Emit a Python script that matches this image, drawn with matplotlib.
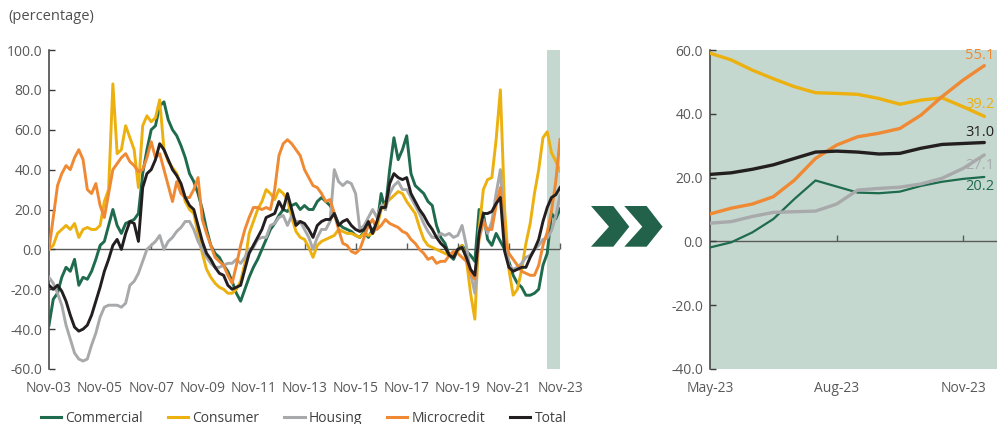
import matplotlib
matplotlib.use("Agg")
import matplotlib.pyplot as plt
from matplotlib.patches import Polygon
from matplotlib.lines import Line2D
import numpy as np

plt.rcParams['font.family'] = ['Open Sans', 'DejaVu Sans']

# ---------------------------------------------------------------------------
# Annual growth of the loan portfolio by type, sampled every two months
# (month index 0 = Nov-03, 240 = Nov-23)
# ---------------------------------------------------------------------------
months = np.arange(0, 241, 2)

commercial = [
    -38, -25, -22, -14, -9, -11, -5, -18, -14, -15, -11, -5, 2, 4, 12, 20, 12, 8, 13, 14,
    15, 18, 38, 50, 60, 62, 72, 74, 65, 60, 57, 52, 46, 38, 34, 28, 20, 10, 2, -2,
    -4, -8, -11, -16, -22, -26, -20, -14, -9, -5, 0, 5, 10, 13, 17, 20, 19, 22, 23, 20,
    22, 20, 20, 24, 26, 24, 22, 18, 13, 11, 10, 9, 7, 6, 9, 6, 10, 12, 28, 20,
    40, 56, 45, 50, 57, 38, 32, 30, 28, 24, 22, 12, 6, 3, -3, -5, 0, 2, -1, -3,
    -6, 20, 18, 5, 2, 8, 4, 0, -6, -13, -17, -19, -23, -23, -22, -20, -8, -2, 18, 15.3, 20.2,
]

consumer = [
    0, 2, 8, 10, 12, 10, 13, 6, 10, 11, 10, 10, 12, 24, 30, 83, 48, 50, 62, 56,
    50, 31, 62, 67, 64, 66, 75, 50, 44, 41, 38, 32, 24, 20, 18, 8, -2, -10, -14, -17,
    -19, -20, -22, -22, -20, -16, -7, 8, 14, 20, 24, 30, 28, 25, 30, 28, 25, 16, 9, 6,
    5, 1, -4, 2, 4, 5, 6, 7, 10, 9, 8, 8, 7, 6, 8, 7, 8, 11, 20, 23,
    25, 27, 29, 28, 24, 21, 18, 11, 5, 2, 1, 0, -1, -2, -3, -2, -1, 2, -5, -22,
    -35, 10, 30, 35, 36, 55, 80, 20, -10, -23, -20, -10, 3, 13, 28, 40, 56, 59, 48.5, 44.3, 39.2,
]

housing = [
    -14, -17, -22, -28, -38, -45, -52, -55, -56, -55, -48, -42, -34, -29, -28, -28, -28, -29, -27, -18,
    -16, -12, -6, 0, 2, 4, 7, 0, 4, 6, 9, 11, 14, 14, 10, 4, 0, -4, -7, -9,
    -9, -8, -7, -7, -5, -7, -4, 0, 1, 5, 6, 6, 12, 13, 16, 17, 12, 17, 14, 14,
    10, 6, 0, 6, 10, 10, 14, 40, 34, 32, 34, 33, 28, 10, 12, 16, 20, 16, 22, 20,
    28, 32, 34, 30, 30, 26, 22, 18, 13, 9, 6, 6, 8, 7, 8, 6, 7, 12, 2, -12,
    -22, 10, 15, 8, 14, 28, 40, 5, -8, -10, -9, -7, -4, -3, 0, 2, 5, 5.7, 9.3, 16.6, 27.1,
]

microcredit = [
    0, 16, 32, 38, 42, 40, 46, 50, 45, 30, 28, 33, 22, 16, 28, 40, 43, 46, 48, 44,
    42, 39, 40, 46, 54, 46, 48, 40, 32, 24, 34, 28, 26, 26, 30, 36, 15, 8, 2, -4,
    -6, -8, -13, -17, -8, 2, 10, 16, 21, 21, 20, 21, 20, 30, 47, 53, 55, 53, 50, 47,
    40, 36, 32, 31, 28, 24, 25, 18, 10, 3, 2, -1, -2, 0, 6, 12, 15, 10, 12, 15,
    13, 12, 11, 9, 8, 5, 3, 0, -2, -5, -4, -7, -6, -6, -3, -1, -2, -4, -6, -12,
    -15, 5, 14, 10, 10, 22, 31, 6, -2, -5, -8, -11, -12, -13, -13, -8, 2, 8.6, 19.2, 33.9, 55.1,
]

total = [
    -18, -20, -18, -21, -26, -33, -39, -41, -40, -38, -33, -26, -19, -11, -5, 2, 5, 0, 8, 14,
    13, 4, 31, 38, 40, 45, 53, 50, 45, 40, 37, 33, 26, 22, 20, 12, 4, -2, -5, -9,
    -12, -13, -18, -20, -19, -18, -10, -2, 2, 6, 10, 16, 17, 18, 24, 20, 28, 20, 12, 14,
    13, 10, 6, 12, 14, 15, 15, 18, 12, 14, 15, 12, 10, 9, 10, 14, 8, 14, 21, 21,
    33, 38, 36, 35, 36, 28, 24, 20, 17, 13, 10, 6, 3, 1, -3, -4, 0, 1, -4, -10,
    -13, 8, 18, 18, 19, 23, 26, -1, -9, -11, -10, -9, -9, -4, 0, 5, 14, 21, 26, 27.4, 31.0,
]

series_names = ["Commercial", "Consumer", "Housing", "Microcredit", "Total"]
series_colors = ["#1F6B4E", "#ECB00F", "#A8A9AB", "#EF8933", "#231F20"]

x_tick_months = list(range(0, 241, 24))
x_tick_labels = ["Nov-03", "Nov-05", "Nov-07", "Nov-09", "Nov-11", "Nov-13",
                 "Nov-15", "Nov-17", "Nov-19", "Nov-21", "Nov-23"]
highlight_start, highlight_end = 234, 240

# ---------------------------------------------------------------------------
# Detail of the latest months (months after May-23, half-month steps)
# ---------------------------------------------------------------------------
zoom_t = np.arange(0, 6.51, 0.5)
zoom_commercial = [-1.9, -0.3, 2.8, 7.0, 13.3, 19.1, 17.2, 15.3, 15.1, 15.6, 17.4, 18.7, 19.6, 20.2]
zoom_consumer = [59.0, 56.9, 53.7, 51.0, 48.5, 46.6, 46.4, 46.1, 44.8, 43.0, 44.3, 45.0, 42.2, 39.2]
zoom_housing = [5.7, 6.2, 7.8, 9.1, 9.3, 9.5, 11.7, 16.1, 16.6, 17.0, 18.0, 19.8, 22.9, 27.1]
zoom_microcredit = [8.6, 10.4, 11.7, 14.0, 19.2, 26.0, 30.2, 32.8, 33.9, 35.4, 39.6, 45.4, 50.6, 55.1]
zoom_total = [21.0, 21.5, 22.6, 24.0, 26.0, 28.0, 28.3, 28.0, 27.4, 27.6, 29.2, 30.4, 30.7, 31.0]

zoom_ticks = [0, 3, 6]
zoom_tick_labels = ["May-23", "Aug-23", "Nov-23"]
# vertical offset (pixels) of each end label relative to the line end
label_offsets = [-10, 12, -11, 10, 10]

SHADE = "#C5D8CF"
AXIS_COLOR = "#3A3A3A"
TICK_TEXT = "#595959"

W, H = 997, 424
fig = plt.figure(figsize=(W / 100, H / 100), dpi=100)


def frac(x, y):
    return x / W, 1 - y / H


def style_axes(ax, ylo, yhi, step):
    ax.set_ylim(ylo, yhi)
    ax.set_yticks(np.arange(ylo, yhi + 0.1, step))
    ax.yaxis.set_major_formatter(matplotlib.ticker.FormatStrFormatter('%.1f'))
    for side in ("top", "right", "bottom"):
        ax.spines[side].set_visible(False)
    ax.spines["left"].set_color(AXIS_COLOR)
    ax.spines["left"].set_linewidth(1.1)
    ax.tick_params(axis="y", direction="in", length=4, width=1.0, color=AXIS_COLOR,
                   labelsize=10, labelcolor=TICK_TEXT, pad=5)
    ax.tick_params(axis="x", length=0, labelsize=10, labelcolor=TICK_TEXT, pad=9)
    ax.axhline(0, color="#5A5A5A", lw=1.0, zorder=1)
    # tick marks sitting on the zero line
    frac0 = (0 - ylo) / (yhi - ylo)
    sec = ax.secondary_xaxis(frac0)
    sec.spines["bottom"].set_visible(False)
    sec.tick_params(direction="in", length=4, width=1.0, color="#5A5A5A", labelbottom=False)
    return sec


# ---------------- left panel: full history ----------------
ax1 = fig.add_axes([49 / W, 55 / H, 511 / W, 319 / H])
ax1.set_xlim(0, 240)
sec1 = style_axes(ax1, -60, 100, 20)
ax1.set_xticks(x_tick_months)
ax1.set_xticklabels(x_tick_labels)
sec1.set_xticks(x_tick_months)
ax1.axvspan(highlight_start, highlight_end, color=SHADE, zorder=0, lw=0)

for vals, name, col in zip([commercial, consumer, housing, microcredit, total],
                           series_names, series_colors):
    ax1.plot(months, vals, color=col, lw=2.1, solid_joinstyle="round", zorder=3)

# ---------------- right panel: latest months ----------------
ax2 = fig.add_axes([710 / W, 55 / H, 300 / W, 319 / H])
ax2.set_facecolor(SHADE)
ax2.set_xlim(0, 300 / 42.2)
sec2 = style_axes(ax2, -40, 60, 20)
ax2.set_xticks(zoom_ticks)
ax2.set_xticklabels(zoom_tick_labels)
sec2.set_xticks(zoom_ticks[1:])

zoom_series = [zoom_commercial, zoom_consumer, zoom_housing, zoom_microcredit, zoom_total]
zoom_widths = [1.6, 2.4, 2.4, 2.4, 2.4]
for vals, col, lw, dy in zip(zoom_series, series_colors, zoom_widths, label_offsets):
    ax2.plot(zoom_t, vals, color=col, lw=lw, solid_capstyle="round", zorder=3)
    # end-of-period value, kept inside the canvas
    ax2.annotate(f"{vals[-1]:.1f}", xy=(zoom_t[-1], vals[-1]), xytext=(-19, dy),
                 textcoords="offset pixels", ha="left", va="center",
                 color=col, fontsize=10.5, annotation_clip=False)

# ---------------- chevrons between the panels ----------------
chev_color = "#22614A"
for dx in (0, 33.3):
    pts = [(591 + dx, 206), (613.3 + dx, 206), (629.3 + dx, 226.7),
           (613.3 + dx, 246.7), (591 + dx, 246.7), (609 + dx, 226.7)]
    fig.patches.append(Polygon([frac(x, y) for x, y in pts], closed=True,
                               transform=fig.transFigure, facecolor=chev_color,
                               edgecolor="none"))

# ---------------- texts and legend ----------------
fig.text(*frac(8, 17), "(percentage)", ha="left", va="center", fontsize=10.5, color="#505050")

handles = [Line2D([0], [0], color=c, lw=2.2) for c in series_colors]
fig.legend(handles, series_names, loc="center", bbox_to_anchor=(frac(304, 418)),
           ncol=5, frameon=False, fontsize=10, handlelength=1.45, handletextpad=0.3,
           columnspacing=1.8, labelcolor="#404040", borderaxespad=0, borderpad=0)

fig.savefig("out.png", dpi=100)
